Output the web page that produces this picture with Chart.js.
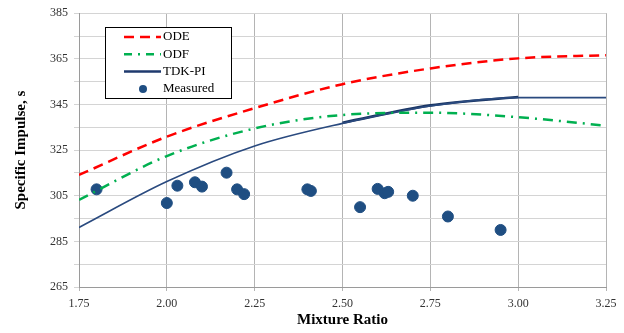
<!DOCTYPE html>
<html>
<head>
<meta charset="utf-8">
<script src="https://cdn.jsdelivr.net/npm/chart.js@4"></script>
<style>
  html, body { margin: 0; padding: 0; background: #fff; }
  #wrap { width: 624px; height: 333px; position: relative; }
</style>
</head>
<body>
<div id="wrap"><canvas id="isp"></canvas></div>
<script>
// mixture ratio grid for the model curves
var mrCurve = [1.75, 2.00, 2.25, 2.50, 2.75, 3.00, 3.25];
var ispODE = [314.1, 330.9, 343.4, 353.9, 360.8, 365.2, 366.6];
var ispODF = [303.2, 322.4, 334.5, 340.4, 341.4, 339.4, 335.7];
var ispTDK = [291.1, 311.2, 326.8, 336.7, 344.3, 348.0, 348.0];

// second (heavier) TDK-PI trace between 2.5 and 3.0
var mrTDK2 = [2.50, 2.75, 3.00];
var ispTDK2 = [337.0, 344.6, 348.3];

// test data
var mrMeas = [1.80, 2.00, 2.03, 2.08, 2.10, 2.17, 2.20, 2.22, 2.40, 2.41, 2.55, 2.60, 2.62, 2.63, 2.70, 2.80, 2.95];
var ispMeas = [307.8, 301.8, 309.4, 310.9, 309.0, 315.1, 307.8, 305.7, 307.8, 307.1, 300.0, 308.0, 306.1, 306.7, 305.0, 295.9, 290.0];

function pts(xs, ys) {
    return xs.map(function (x, i) { return { x: x, y: ys[i] }; });
}

var serif = '"Liberation Serif", "Times New Roman", serif';

var legendBox = {
    id: 'legendBox',
    afterDatasetsDraw: function (chart) {
        var ctx = chart.ctx;
        var x0 = 105, y0 = 27, w = 126, h = 71;
        ctx.save();
        ctx.fillStyle = '#fff';
        ctx.fillRect(x0, y0, w, h);
        ctx.strokeStyle = '#000';
        ctx.lineWidth = 1;
        ctx.strokeRect(x0 + 0.5, y0 + 0.5, w, h);
        var items = [
            { label: 'ODE', color: '#FF0000', dash: [10, 6], width: 2.5 },
            { label: 'ODF', color: '#00B050', dash: [8, 6, 2, 6], width: 2.5 },
            { label: 'TDK-PI', color: '#1F3A6E', dash: [], width: 2.5 },
            { label: 'Measured', color: '#1F4E82', point: true }
        ];
        ctx.font = '13px ' + serif;
        ctx.textBaseline = 'middle';
        items.forEach(function (it, i) {
            var y = y0 + 10 + i * 17.3;
            if (it.point) {
                ctx.fillStyle = it.color;
                ctx.beginPath();
                ctx.arc(143, y, 4, 0, Math.PI * 2);
                ctx.fill();
            } else {
                ctx.strokeStyle = it.color;
                ctx.lineWidth = it.width;
                ctx.setLineDash(it.dash);
                ctx.beginPath();
                ctx.moveTo(124, y);
                ctx.lineTo(161, y);
                ctx.stroke();
                ctx.setLineDash([]);
            }
            ctx.fillStyle = '#000';
            ctx.fillText(it.label, 163, y);
        });
        ctx.restore();
    }
};

new Chart(document.getElementById('isp').getContext('2d'), {
    type: 'scatter',
    data: {
        datasets: [{
            label: 'ODE',
            data: pts(mrCurve, ispODE),
            showLine: true,
            borderColor: '#FF0000',
            borderWidth: 2.5,
            borderDash: [10, 6],
            pointRadius: 0,
            cubicInterpolationMode: 'monotone'
        }, {
            label: 'ODF',
            data: pts(mrCurve, ispODF),
            showLine: true,
            borderColor: '#00B050',
            borderWidth: 2.5,
            borderDash: [10, 6, 2, 6],
            pointRadius: 0,
            cubicInterpolationMode: 'monotone'
        }, {
            label: 'TDK-PI',
            data: pts(mrCurve, ispTDK),
            showLine: true,
            borderColor: '#2A4A7F',
            borderWidth: 1.6,
            pointRadius: 0,
            cubicInterpolationMode: 'monotone'
        }, {
            label: 'TDK-PI 2',
            data: pts(mrTDK2, ispTDK2),
            showLine: true,
            borderColor: '#1A3563',
            borderWidth: 2.6,
            pointRadius: 0,
            cubicInterpolationMode: 'monotone'
        }, {
            label: 'Measured',
            data: pts(mrMeas, ispMeas),
            backgroundColor: '#1F4E82',
            borderColor: '#1F4E82',
            pointRadius: 5.5,
            pointHoverRadius: 5.5
        }]
    },
    options: {
        responsive: true,
        maintainAspectRatio: false,
        animation: false,
        layout: { padding: { top: 13, right: 18, left: 0, bottom: 0 } },
        plugins: {
            legend: { display: false },
            tooltip: { enabled: false }
        },
        scales: {
            x: {
                type: 'linear',
                min: 1.75,
                max: 3.25,
                ticks: {
                    stepSize: 0.25,
                    color: '#333',
                    font: { family: serif, size: 12 },
                    callback: function (v) { return v.toFixed(2); },
                    maxRotation: 0,
                    padding: 6
                },
                grid: { color: '#B4B4B4', tickLength: 4, lineWidth: 1 },
                border: { color: '#9A9A9A' },
                title: {
                    display: true,
                    text: 'Mixture Ratio',
                    color: '#000',
                    font: { family: serif, size: 15, weight: 'bold' },
                    padding: { top: 2 }
                },
                afterFit: function (s) { s.height = 46; }
            },
            y: {
                min: 265,
                max: 385,
                ticks: {
                    stepSize: 10,
                    color: '#333',
                    font: { family: serif, size: 12 },
                    callback: function (v) { return (v - 265) % 20 === 0 ? v : ''; },
                    padding: 6
                },
                grid: { color: '#D4D4D4', tickLength: 5, lineWidth: 1 },
                border: { color: '#9A9A9A' },
                title: {
                    display: true,
                    text: 'Specific Impulse, s',
                    color: '#000',
                    font: { family: serif, size: 15, weight: 'bold' },
                    padding: { top: 12, bottom: 4 }
                },
                afterFit: function (s) { s.width = 79; }
            }
        }
    },
    plugins: [legendBox]
});
</script>
</body>
</html>
